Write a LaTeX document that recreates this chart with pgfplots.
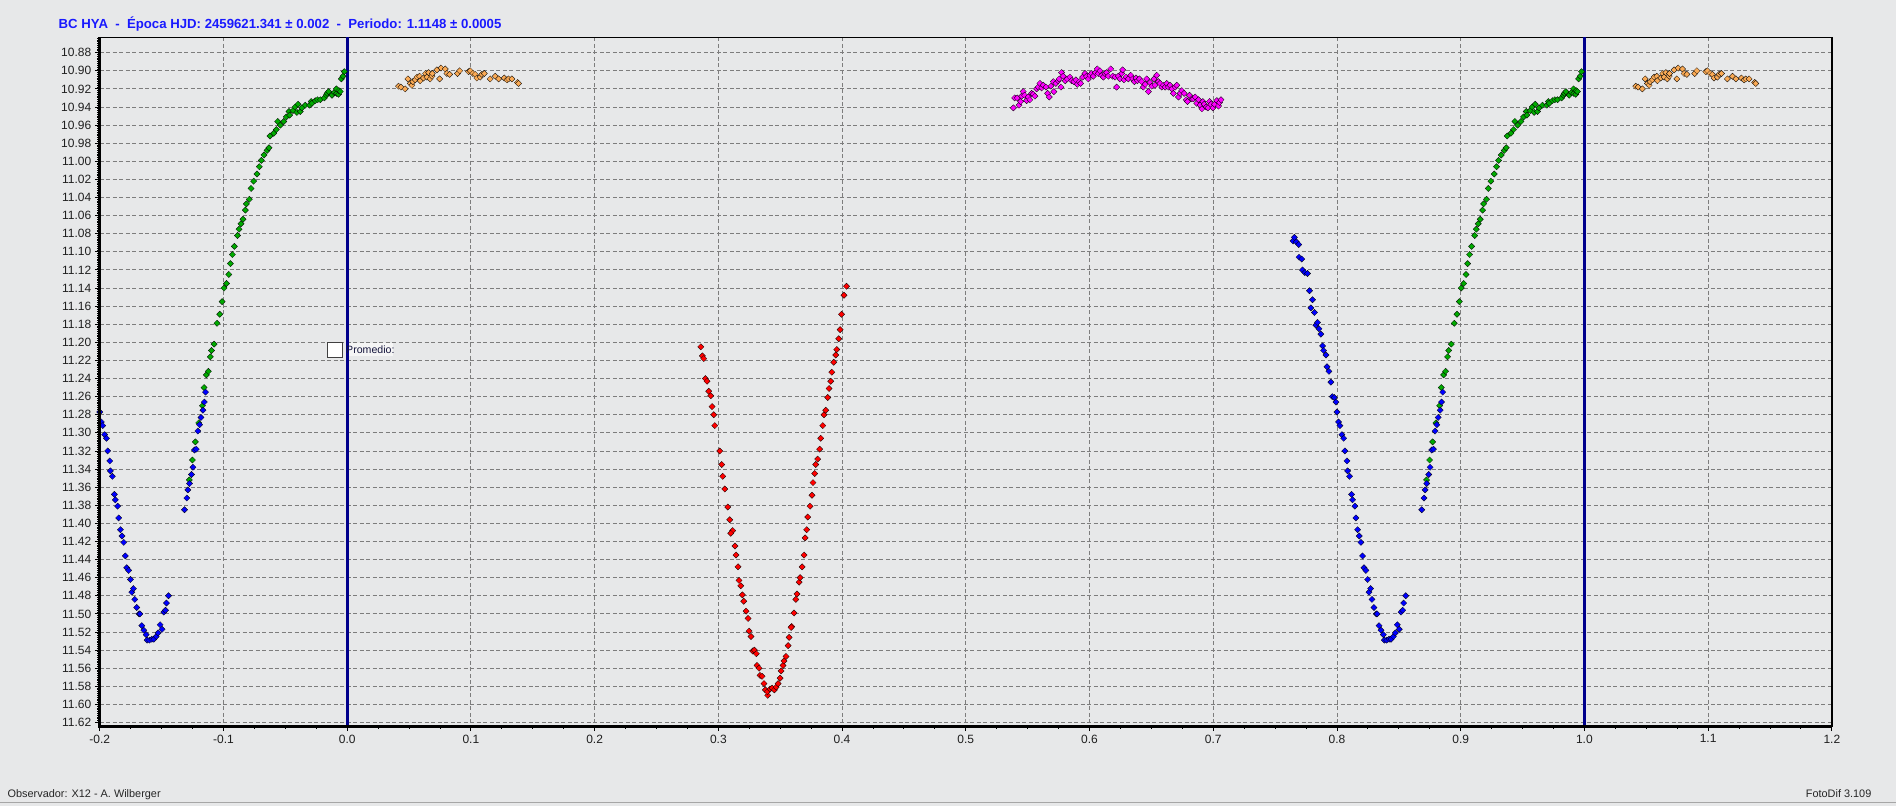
\documentclass[border=0pt]{standalone}
\usepackage{pgfplots}
\pgfplotsset{compat=1.18}
\usepackage{pgfplotstable}
\usepackage{fontspec}
\setmainfont{Liberation Sans}

\definecolor{bgc}{RGB}{231,232,233}
\definecolor{cblue}{RGB}{0,0,255}
\definecolor{cgreen}{RGB}{0,170,0}
\definecolor{cred}{RGB}{255,0,0}
\definecolor{cmag}{RGB}{255,0,255}
\definecolor{corange}{RGB}{250,170,85}
\definecolor{navyl}{RGB}{0,0,140}
\definecolor{titleblue}{RGB}{25,25,255}
\definecolor{gridc}{RGB}{125,125,125}

\pgfplotstableread{
p m
0.7645 11.088
0.7656 11.084
0.7672 11.089
0.7691 11.092
0.7694 11.106
0.7715 11.108
0.7721 11.120
0.7740 11.123
0.7762 11.124
0.7778 11.143
0.7789 11.162
0.7802 11.153
0.7818 11.167
0.7829 11.181
0.7843 11.178
0.7854 11.185
0.7870 11.191
0.7884 11.204
0.7892 11.209
0.7911 11.214
0.7919 11.227
0.7935 11.232
0.7951 11.244
0.7962 11.260
0.7978 11.261
0.7992 11.266
0.8000 11.277
0.8013 11.288
0.8024 11.292
0.8040 11.302
0.8054 11.306
0.8064 11.320
0.8081 11.331
0.8086 11.342
0.8102 11.348
0.8118 11.368
0.8126 11.374
0.8145 11.381
0.8153 11.394
0.8167 11.407
0.8180 11.414
0.8194 11.421
0.8207 11.436
0.8218 11.449
0.8234 11.452
0.8248 11.462
0.8259 11.476
0.8272 11.472
0.8283 11.484
0.8299 11.493
0.8318 11.500
0.8324 11.500
0.8340 11.513
0.8356 11.518
0.8375 11.523
0.8383 11.529
0.8402 11.529
0.8421 11.528
0.8437 11.528
0.8456 11.525
0.8472 11.521
0.8488 11.512
0.8504 11.517
0.8518 11.498
0.8531 11.496
0.8539 11.488
0.8556 11.480
0.8685 11.385
0.8704 11.372
0.8712 11.363
0.8726 11.356
0.8742 11.346
0.8753 11.338
0.8766 11.319
0.8780 11.318
0.8793 11.298
0.8807 11.291
0.8818 11.283
0.8834 11.275
0.8845 11.266
0.8855 11.255
}\tblblue

\pgfplotstableread{
p m
0.8724 11.352
0.8749 11.330
0.8773 11.310
0.8800 11.289
0.8830 11.270
0.8843 11.250
0.8862 11.236
0.8878 11.232
0.8894 11.216
0.8903 11.209
0.8924 11.202
0.8948 11.179
0.8970 11.169
0.8989 11.155
0.9005 11.140
0.9024 11.135
0.9043 11.125
0.9056 11.113
0.9072 11.103
0.9088 11.094
0.9113 11.082
0.9126 11.075
0.9142 11.069
0.9158 11.064
0.9177 11.054
0.9185 11.047
0.9209 11.042
0.9223 11.030
0.9244 11.022
0.9271 11.014
0.9290 11.006
0.9306 10.999
0.9328 10.993
0.9352 10.988
0.9368 10.985
0.9376 10.972
0.9406 10.969
0.9427 10.965
0.9438 10.956
0.9460 10.960
0.9487 10.956
0.9508 10.951
0.9530 10.945
0.9535 10.949
0.9562 10.944
0.9579 10.940
0.9594 10.946
0.9603 10.937
0.9621 10.945
0.9634 10.941
0.9661 10.938
0.9696 10.938
0.9709 10.934
0.9715 10.936
0.9742 10.933
0.9761 10.932
0.9783 10.932
0.9815 10.930
0.9831 10.927
0.9838 10.925
0.9850 10.923
0.9877 10.927
0.9895 10.924
0.9912 10.920
0.9914 10.925
0.9930 10.926
0.9933 10.922
0.9944 10.923
0.9953 10.909
0.9966 10.906
0.9977 10.901
}\tblgreen

\pgfplotstableread{
p m
0.2858 11.205
0.2871 11.215
0.2882 11.218
0.2895 11.240
0.2909 11.243
0.2922 11.254
0.2939 11.259
0.2949 11.271
0.2963 11.280
0.2971 11.292
0.3011 11.320
0.3027 11.335
0.3035 11.348
0.3052 11.362
0.3076 11.382
0.3092 11.396
0.3116 11.408
0.3100 11.411
0.3135 11.425
0.3143 11.435
0.3159 11.448
0.3167 11.463
0.3181 11.469
0.3194 11.479
0.3205 11.486
0.3224 11.497
0.3240 11.505
0.3248 11.519
0.3264 11.525
0.3278 11.541
0.3291 11.540
0.3307 11.544
0.3313 11.557
0.3329 11.560
0.3337 11.568
0.3353 11.569
0.3369 11.577
0.3380 11.584
0.3399 11.590
0.3396 11.586
0.3418 11.583
0.3434 11.582
0.3453 11.584
0.3467 11.581
0.3483 11.577
0.3499 11.571
0.3507 11.563
0.3523 11.557
0.3531 11.552
0.3547 11.547
0.3564 11.535
0.3572 11.526
0.3593 11.514
0.3588 11.515
0.3612 11.499
0.3626 11.484
0.3636 11.478
0.3653 11.465
0.3661 11.460
0.3677 11.448
0.3693 11.435
0.3701 11.416
0.3714 11.407
0.3722 11.393
0.3741 11.381
0.3757 11.369
0.3765 11.355
0.3779 11.345
0.3787 11.335
0.3803 11.329
0.3819 11.318
0.3827 11.306
0.3844 11.292
0.3854 11.280
0.3868 11.275
0.3884 11.261
0.3895 11.251
0.3909 11.243
0.3917 11.233
0.3933 11.222
0.3949 11.214
0.3957 11.208
0.3973 11.196
0.3984 11.186
0.3996 11.169
0.4016 11.148
0.4036 11.138
}\tblred

\pgfplotstableread{
p m
0.5384 10.941
0.5395 10.930
0.5416 10.930
0.5430 10.938
0.5443 10.934
0.5451 10.928
0.5464 10.923
0.5475 10.927
0.5491 10.933
0.5505 10.929
0.5518 10.932
0.5532 10.925
0.5545 10.926
0.5559 10.928
0.5572 10.920
0.5586 10.918
0.5599 10.914
0.5613 10.919
0.5626 10.916
0.5648 10.918
0.5661 10.925
0.5675 10.929
0.5688 10.917
0.5707 10.912
0.5712 10.923
0.5728 10.914
0.5747 10.911
0.5755 10.909
0.5769 10.918
0.5774 10.902
0.5788 10.906
0.5804 10.911
0.5820 10.909
0.5842 10.907
0.5855 10.911
0.5874 10.912
0.5890 10.910
0.5901 10.915
0.5917 10.912
0.5928 10.914
0.5944 10.907
0.5963 10.903
0.5976 10.906
0.5990 10.909
0.6003 10.905
0.6017 10.903
0.6030 10.906
0.6047 10.902
0.6063 10.898
0.6071 10.903
0.6084 10.900
0.6098 10.905
0.6112 10.907
0.6125 10.903
0.6138 10.902
0.6152 10.906
0.6171 10.898
0.6187 10.906
0.6206 10.907
0.6219 10.918
0.6233 10.906
0.6246 10.909
0.6260 10.903
0.6268 10.899
0.6279 10.910
0.6295 10.907
0.6314 10.909
0.6333 10.905
0.6349 10.909
0.6362 10.912
0.6376 10.908
0.6387 10.911
0.6403 10.909
0.6422 10.912
0.6435 10.918
0.6449 10.915
0.6462 10.909
0.6476 10.923
0.6489 10.913
0.6503 10.917
0.6522 10.909
0.6530 10.916
0.6543 10.905
0.6557 10.912
0.6570 10.914
0.6584 10.918
0.6597 10.916
0.6611 10.918
0.6624 10.914
0.6638 10.918
0.6651 10.916
0.6665 10.920
0.6678 10.925
0.6692 10.918
0.6705 10.916
0.6719 10.929
0.6732 10.925
0.6746 10.922
0.6765 10.925
0.6781 10.932
0.6792 10.934
0.6808 10.927
0.6827 10.931
0.6840 10.931
0.6854 10.929
0.6867 10.936
0.6881 10.932
0.6894 10.938
0.6908 10.942
0.6916 10.934
0.6927 10.937
0.6943 10.940
0.6956 10.941
0.6970 10.934
0.6981 10.937
0.6997 10.941
0.7010 10.937
0.7029 10.933
0.7043 10.939
0.7051 10.935
0.7062 10.932
}\tblmag

\pgfplotstableread{
p m
0.0415 10.917
0.0434 10.918
0.0469 10.920
0.0491 10.909
0.0510 10.914
0.0523 10.916
0.0531 10.912
0.0550 10.910
0.0564 10.907
0.0585 10.906
0.0590 10.911
0.0617 10.908
0.0634 10.903
0.0644 10.907
0.0658 10.902
0.0671 10.909
0.0685 10.906
0.0688 10.903
0.0725 10.899
0.0747 10.909
0.0758 10.897
0.0793 10.898
0.0806 10.903
0.0828 10.904
0.0892 10.903
0.0909 10.900
0.0981 10.901
0.0994 10.900
0.1016 10.903
0.1035 10.904
0.1048 10.908
0.1075 10.907
0.1089 10.904
0.1108 10.903
0.1156 10.909
0.1197 10.906
0.1224 10.909
0.1269 10.908
0.1291 10.910
0.1304 10.909
0.1331 10.909
0.1377 10.913
0.1385 10.914
}\tblorange

\pgfplotsset{
  pt/.style={only marks, mark=square*, mark size=2.2pt,
    mark options={rotate=45, fill=#1, draw=black, line width=0.3pt}},
}

\begin{document}
\begin{tikzpicture}[x=1pt,y=1pt]
\fill[bgc] (0pt,0pt) rectangle (1896pt,806pt);
\draw[gray!70, line width=1pt] (0pt,3pt) -- (1896pt,3pt);
\begin{axis}[
  name=ax,
  at={(99.3pt,79.5pt)}, anchor=south west,
  width=1733pt, height=689.2pt, scale only axis,
  xmin=-0.2, xmax=1.2, ymin=10.863, ymax=11.624,
  y dir=reverse,
  restrict x to domain=-0.2:1.2,
  axis background/.style={fill=bgc},
  axis line style={line width=1.5pt, black},
  xtick distance=0.1, ytick distance=0.02,
  minor x tick num=3, minor y tick num=9,
  tick pos=left, tick align=outside,
  major tick length=5pt, minor tick length=2.5pt,
  every tick/.style={black, line width=0.9pt},
  grid=major,
  major grid style={gridc, line width=0.9pt, dash pattern=on 4pt off 2.5pt},
  scaled x ticks=false, scaled y ticks=false,
  xticklabel style={font=\fontsize{12}{14}\selectfont, text=black!88,
    /pgf/number format/.cd, fixed, fixed zerofill, precision=1, assume math mode=true},
  yticklabel style={font=\fontsize{12}{14}\selectfont, text=black!88,
    /pgf/number format/.cd, fixed, fixed zerofill, precision=2, assume math mode=true},
]
\draw[navyl, line width=3pt] (axis cs:0,10.863) -- (axis cs:0,11.624);
\draw[navyl, line width=3pt] (axis cs:1,10.863) -- (axis cs:1,11.624);
\addplot[pt=corange] table[x=p, y=m]{\tblorange};
\addplot[pt=corange] table[x expr=\thisrow{p}+1, y=m]{\tblorange};
\addplot[pt=cmag] table[x=p, y=m]{\tblmag};
\addplot[pt=cred] table[x=p, y=m]{\tblred};
\addplot[pt=cgreen] table[x=p, y=m]{\tblgreen};
\addplot[pt=cgreen] table[x expr=\thisrow{p}-1, y=m]{\tblgreen};
\addplot[pt=cblue] table[x=p, y=m]{\tblblue};
\addplot[pt=cblue] table[x expr=\thisrow{p}-1, y=m]{\tblblue};
\end{axis}
\draw[black, line width=3pt] (ax.north west) -- (ax.south west) -- (ax.south east);
% Promedio box
\fill[black!4] (349pt,450pt) rectangle (393pt,462.5pt);
\draw[black!75, line width=1pt, fill=white] (327.3pt,448.7pt) rectangle (342.3pt,463.7pt);
\node[anchor=base west, inner sep=0pt, font=\fontsize{10.6}{12}\selectfont, text={rgb,255:red,20;green,20;blue,60}] at (345.7pt,452pt) {Promedio:};
% title
\node[anchor=base west, inner sep=0pt, text=titleblue] at (58pt,777.5pt)
  {\bfseries\fontsize{13.2}{15}\selectfont BC HYA\ \ -\ \ Época HJD: 2459621.341 ± 0.002\ \ -\ \ Periodo: 1.1148 ± 0.0005};
\node[anchor=base west, inner sep=0pt, font=\fontsize{10.9}{13}\selectfont, text=black!85] at (7pt,8pt) {Observador: X12 - A. Wilberger};
\node[anchor=base east, inner sep=0pt, font=\fontsize{10.9}{13}\selectfont, text=black!85] at (1872pt,8pt) {FotoDif 3.109};
\end{tikzpicture}
\end{document}
